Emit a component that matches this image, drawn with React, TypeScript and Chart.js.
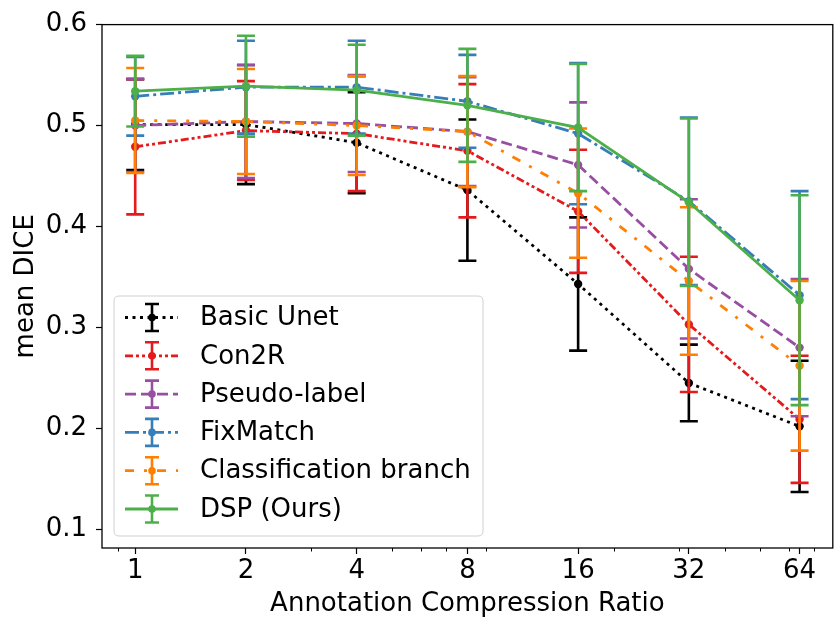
import React, { useEffect, useRef } from "react";
import { Chart, registerables } from "chart.js";
Chart.register(...registerables);

const ratios = [1, 2, 4, 8, 16, 32, 64];
const tickLabels = ["1", "2", "4", "8", "16", "32", "64"];
const minorTicks = [0.9, 3, 5, 6, 7, 9, 20, 30, 40, 50, 60, 70];
const yTicks = [0.1, 0.2, 0.3, 0.4, 0.5, 0.6];

const seriesNames = ["Basic Unet", "Con2R", "Pseudo-label", "FixMatch", "Classification branch", "DSP (Ours)"];
const seriesColors = ["#000000", "#e41a1c", "#984ea3", "#377eb8", "#ff7f00", "#4daf4a"];
const seriesDashes = [[3, 4.5], [8, 3, 3, 3, 3, 3], [11, 5], [14, 4, 3, 4], [9, 10, 3, 10], []];

const basicUnetMean = [0.501, 0.501, 0.483, 0.436, 0.343, 0.245, 0.202];
const basicUnetErr = [0.045, 0.059, 0.050, 0.070, 0.066, 0.038, 0.065];
const con2rMean = [0.479, 0.495, 0.492, 0.475, 0.415, 0.303, 0.209];
const con2rErr = [0.067, 0.049, 0.057, 0.066, 0.061, 0.067, 0.063];
const pseudoMean = [0.500, 0.504, 0.502, 0.494, 0.461, 0.358, 0.280];
const pseudoErr = [0.046, 0.056, 0.048, 0.054, 0.062, 0.069, 0.068];
const fixMatchMean = [0.529, 0.538, 0.538, 0.524, 0.492, 0.425, 0.332];
const fixMatchErr = [0.039, 0.046, 0.046, 0.046, 0.070, 0.083, 0.103];
const classMean = [0.505, 0.504, 0.500, 0.494, 0.433, 0.346, 0.262];
const classErr = [0.052, 0.052, 0.049, 0.055, 0.064, 0.073, 0.084];
const dspMean = [0.534, 0.539, 0.535, 0.520, 0.498, 0.424, 0.327];
const dspErr = [0.035, 0.050, 0.045, 0.056, 0.063, 0.083, 0.104];

const allMeans = [basicUnetMean, con2rMean, pseudoMean, fixMatchMean, classMean, dspMean];
const allErrs = [basicUnetErr, con2rErr, pseudoErr, fixMatchErr, classErr, dspErr];

const FONT = "'DejaVu Sans', sans-serif";
const FS = 26;

export default function App() {
  const ref = useRef<HTMLCanvasElement | null>(null);

  useEffect(() => {
    if (!ref.current) return;

    const errorBarPlugin = {
      id: "errorBars",
      beforeDatasetDraw(chart: any, args: any) {
        const i = args.index;
        const ctx = chart.ctx;
        const xs = chart.scales.x;
        const ys = chart.scales.y;
        ctx.save();
        ctx.strokeStyle = seriesColors[i];
        ctx.lineWidth = 2.6;
        ctx.setLineDash([]);
        ctx.lineCap = "butt";
        for (let j = 0; j < ratios.length; j++) {
          const m = allMeans[i][j];
          const e = allErrs[i][j];
          const x = xs.getPixelForValue(ratios[j]);
          const yl = ys.getPixelForValue(m - e);
          const yu = ys.getPixelForValue(m + e);
          ctx.beginPath();
          ctx.moveTo(x, yl);
          ctx.lineTo(x, yu);
          ctx.moveTo(x - 9, yl);
          ctx.lineTo(x + 9, yl);
          ctx.moveTo(x - 9, yu);
          ctx.lineTo(x + 9, yu);
          ctx.stroke();
        }
        ctx.restore();
      },
    };

    const framePlugin = {
      id: "frameLegend",
      afterDraw(chart: any) {
        const ctx = chart.ctx;
        const a = chart.chartArea;
        const xs = chart.scales.x;
        ctx.save();
        ctx.strokeStyle = "#000";
        ctx.lineWidth = 1.3;
        ctx.setLineDash([]);
        ctx.strokeRect(a.left, a.top, a.right - a.left, a.bottom - a.top);
        ctx.lineWidth = 1;
        ctx.beginPath();
        for (const v of minorTicks) {
          const x = Math.round(xs.getPixelForValue(v)) + 0.5;
          ctx.moveTo(x, a.bottom);
          ctx.lineTo(x, a.bottom + 3.5);
        }
        ctx.stroke();

        const bx = 114, by = 296, bw = 369, bh = 240, r = 5;
        ctx.beginPath();
        ctx.moveTo(bx + r, by);
        ctx.lineTo(bx + bw - r, by);
        ctx.quadraticCurveTo(bx + bw, by, bx + bw, by + r);
        ctx.lineTo(bx + bw, by + bh - r);
        ctx.quadraticCurveTo(bx + bw, by + bh, bx + bw - r, by + bh);
        ctx.lineTo(bx + r, by + bh);
        ctx.quadraticCurveTo(bx, by + bh, bx, by + bh - r);
        ctx.lineTo(bx, by + r);
        ctx.quadraticCurveTo(bx, by, bx + r, by);
        ctx.closePath();
        ctx.fillStyle = "rgba(255,255,255,0.8)";
        ctx.fill();
        ctx.strokeStyle = "#d0d0d0";
        ctx.lineWidth = 1;
        ctx.stroke();

        for (let k = 0; k < seriesNames.length; k++) {
          const y = 317.5 + k * 38.3;
          const c = seriesColors[k];
          ctx.strokeStyle = c;
          ctx.lineWidth = 2.8;
          ctx.setLineDash(seriesDashes[k]);
          ctx.beginPath();
          ctx.moveTo(125, y);
          ctx.lineTo(178, y);
          ctx.stroke();
          ctx.setLineDash([]);
          ctx.lineWidth = 2.6;
          ctx.beginPath();
          ctx.moveTo(152, y - 13.5);
          ctx.lineTo(152, y + 13.5);
          ctx.moveTo(145, y - 13.5);
          ctx.lineTo(159, y - 13.5);
          ctx.moveTo(145, y + 13.5);
          ctx.lineTo(159, y + 13.5);
          ctx.stroke();
          ctx.fillStyle = c;
          ctx.beginPath();
          ctx.arc(152, y, 3.8, 0, Math.PI * 2);
          ctx.fill();
          ctx.fillStyle = "#000";
          ctx.font = `${FS}px ${FONT}`;
          ctx.textBaseline = "middle";
          ctx.textAlign = "left";
          ctx.fillText(seriesNames[k], 200, y + 1);
        }
        ctx.restore();
      },
    };

    const datasets = seriesNames.map((name, i) => ({
      label: name,
      data: ratios.map((r, j) => ({ x: r, y: allMeans[i][j] })),
      borderColor: seriesColors[i],
      backgroundColor: seriesColors[i],
      borderWidth: 2.8,
      borderDash: seriesDashes[i],
      pointRadius: 4.2,
      pointBorderWidth: 0,
      pointBackgroundColor: seriesColors[i],
      tension: 0,
      fill: false,
      order: -i,
    }));

    const chart = new Chart(ref.current, {
      type: "line",
      data: { datasets },
      plugins: [errorBarPlugin, framePlugin],
      options: {
        animation: false,
        responsive: false,
        maintainAspectRatio: false,
        layout: { padding: { top: 21, right: 2, left: 0, bottom: 0 } },
        plugins: { legend: { display: false }, tooltip: { enabled: false }, title: { display: false } },
        scales: {
          x: {
            type: "logarithmic",
            min: Math.pow(2, -0.3),
            max: Math.pow(2, 6.3),
            afterBuildTicks: (s: any) => {
              s.ticks = ratios.map((v) => ({ value: v }));
            },
            afterFit: (s: any) => {
              s.height = 72;
            },
            ticks: {
              autoSkip: false,
              maxRotation: 0,
              padding: 2,
              color: "#000",
              font: { family: FONT, size: FS },
              callback: (v: any) => {
                const idx = ratios.indexOf(Number(v));
                return idx >= 0 ? tickLabels[idx] : "";
              },
            },
            grid: { display: true, drawOnChartArea: false, drawTicks: true, tickLength: 6, tickWidth: 1.2, tickColor: "#000" },
            border: { display: false },
            title: { display: true, text: "Annotation Compression Ratio", color: "#000", font: { family: FONT, size: FS }, padding: { top: 0, bottom: 0 } },
          },
          y: {
            type: "linear",
            min: 0.0815,
            max: 0.6,
            afterBuildTicks: (s: any) => {
              s.ticks = yTicks.map((v) => ({ value: v }));
            },
            afterFit: (s: any) => {
              s.width = 102;
            },
            ticks: {
              padding: 9,
              color: "#000",
              font: { family: FONT, size: FS },
              callback: (v: any) => Number(v).toFixed(1),
            },
            grid: { display: true, drawOnChartArea: false, drawTicks: true, tickLength: 6, tickWidth: 1.2, tickColor: "#000" },
            border: { display: false },
            title: { display: true, text: "mean DICE", color: "#000", font: { family: FONT, size: FS }, padding: { top: 11, bottom: 0 } },
          },
        },
      },
    });
    return () => chart.destroy();
  }, []);

  return (
    <div style={{ position: "absolute", left: 0, top: 0, width: 837, height: 620, background: "#fff" }}>
      <canvas ref={ref} width={837} height={620} style={{ display: "block" }} />
    </div>
  );
}
